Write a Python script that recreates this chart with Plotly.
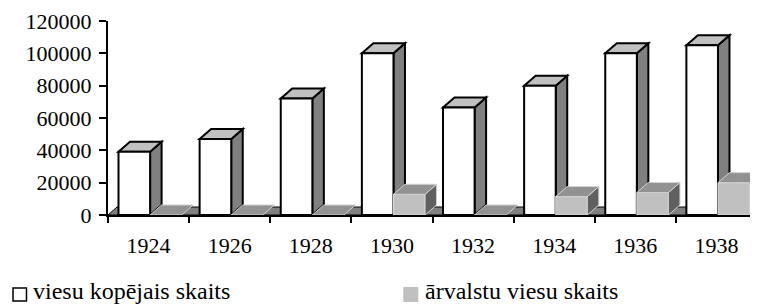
import plotly.graph_objects as go

years = ["1924", "1926", "1928", "1930", "1932", "1934", "1936", "1938"]
total_guests = [39200, 47000, 72000, 100000, 66500, 80000, 100000, 105000]
foreign_guests = [0, 0, 0, 12800, 0, 11400, 13900, 20000]
series_names = ["viesu kopējais skaits", "ārvalstu viesu skaits"]
y_ticks = [0, 20000, 40000, 60000, 80000, 100000, 120000]

# page has an 8px body margin: figure origin sits at screen (8, 8)
OX, OY = 8, 8
W, H = 758 - OX, 304 - OY
ML, MT = 108 - OX, 21 - OY
PW, PH = 649, 194
MR = W - ML - PW
MB = H - MT - PH
YMAX = 120000
N = len(years)

ux = N / PW          # x data units per px
uy = YMAX / PH       # y data units per px
DX = 11.5 * ux       # 3-D depth offset
DY = 10 * uy
FDX = 9 * ux
FDY = 8 * uy

OFF_W = 10.5 * ux
BW = 31.6 * ux
OFF_G = OFF_W + BW

FONT = "Liberation Serif"

fig = go.Figure()

fig.add_trace(go.Bar(
    x=list(range(N)), y=total_guests, name=series_names[0],
    offset=OFF_W, width=BW,
    marker=dict(color="white", line=dict(color="black", width=2)),
    showlegend=False,
))
fig.add_trace(go.Bar(
    x=list(range(N)), y=foreign_guests, name=series_names[1],
    offset=OFF_G, width=BW,
    marker=dict(color="#c0c0c0", line=dict(color="#dcdcdc", width=1)),
    showlegend=False,
))

shapes = []


def poly(pts):
    return "M " + " L ".join(f"{x},{y}" for x, y in pts) + " Z"


# floor
shapes.append(dict(type="path", xref="x", yref="y", layer="below",
                   path=poly([(0, 0), (N, 0), (N + FDX, FDY), (FDX, FDY)]),
                   fillcolor="#808080", line=dict(color="black", width=1)))

for i, v in enumerate(total_guests):
    x0 = i + OFF_W
    x1 = x0 + BW
    shapes.append(dict(type="path", xref="x", yref="y", layer="below",
                       path=poly([(x1, 0), (x1, v), (x1 + DX, v + DY), (x1 + DX, DY)]),
                       fillcolor="#808080", line=dict(color="black", width=2)))
    shapes.append(dict(type="path", xref="x", yref="y", layer="below",
                       path=poly([(x0, v), (x1, v), (x1 + DX, v + DY), (x0 + DX, v + DY)]),
                       fillcolor="#c0c0c0", line=dict(color="black", width=2)))

for i, v in enumerate(foreign_guests):
    x0 = i + OFF_G
    x1 = x0 + BW
    if v > 0:
        shapes.append(dict(type="path", xref="x", yref="y", layer="above",
                           path=poly([(x1, 0), (x1, v), (x1 + DX, v + DY), (x1 + DX, DY)]),
                           fillcolor="#606060", line=dict(color="#d0d0d0", width=1)))
    shapes.append(dict(type="path", xref="x", yref="y", layer="above",
                       path=poly([(x0, v), (x1, v), (x1 + DX, v + DY), (x0 + DX, v + DY)]),
                       fillcolor="#929292", line=dict(color="#d0d0d0", width=1)))


def px_x(p):
    return (p - OX - ML) / PW


def px_y(p):
    return (MT + PH - (p - OY)) / PH


# manual legend
shapes.append(dict(type="rect", xref="paper", yref="paper",
                   x0=px_x(13), x1=px_x(26.5), y0=px_y(301), y1=px_y(288),
                   fillcolor="white", line=dict(color="black", width=1.5)))
shapes.append(dict(type="rect", xref="paper", yref="paper",
                   x0=px_x(403.3), x1=px_x(418.3), y0=px_y(302), y1=px_y(287),
                   fillcolor="#c0c0c0", line=dict(width=0)))

annotations = [
    dict(text=series_names[0], xref="paper", yref="paper", x=px_x(31), y=px_y(290.5),
         xanchor="left", yanchor="middle", showarrow=False,
         font=dict(family=FONT, size=24, color="black")),
    dict(text=series_names[1], xref="paper", yref="paper", x=px_x(423), y=px_y(290.5),
         xanchor="left", yanchor="middle", showarrow=False,
         font=dict(family=FONT, size=24, color="black")),
]

fig.update_layout(
    width=W, height=H,
    margin=dict(l=ML, r=MR, t=MT, b=MB, pad=0),
    paper_bgcolor="white", plot_bgcolor="white",
    barmode="overlay",
    showlegend=False,
    shapes=shapes,
    annotations=annotations,
    font=dict(family=FONT, size=22, color="black"),
    xaxis=dict(
        range=[0, N], tickmode="array",
        tickvals=[i + 0.5 for i in range(N)], ticktext=years,
        ticks="outside", ticklen=10, tickcolor="rgba(0,0,0,0)",
        showline=True, linecolor="black", linewidth=2,
        showgrid=False, zeroline=False, fixedrange=True,
        minor=dict(tickvals=list(range(N + 1)), ticks="outside", ticklen=6,
                   tickwidth=1.5, tickcolor="black", showgrid=False),
        tickfont=dict(family=FONT, size=22, color="black"),
    ),
    yaxis=dict(
        range=[0, YMAX], tickmode="array", tickvals=y_ticks,
        ticktext=[str(t) for t in y_ticks],
        ticks="outside", ticklen=7, tickwidth=1.5, tickcolor="black",
        ticklabelstandoff=3,
        showline=True, linecolor="black", linewidth=2,
        showgrid=False, zeroline=False, fixedrange=True,
        tickfont=dict(family=FONT, size=22, color="black"),
    ),
)

fig.write_html("out.html")
